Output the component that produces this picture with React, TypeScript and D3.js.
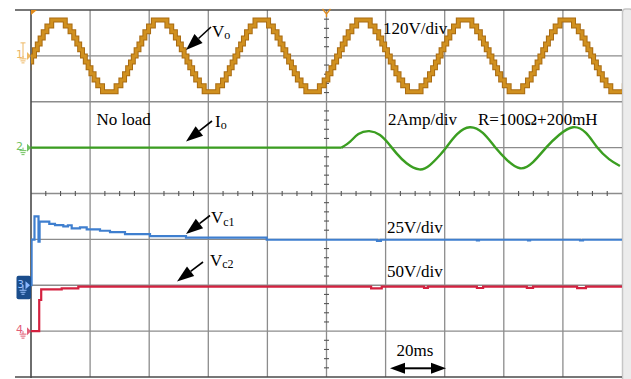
import React, { useMemo } from 'react';
import * as d3 from 'd3';

// Scope capture: multilevel inverter, no load -> R=100Ω+200mH step

const W = 631;
const H = 379;
const plot = { left: 31, right: 622, top: 10, bottom: 377 };

// time base (20 ms/div, 10 divisions) and 8 vertical divisions
const timeDivMs = 20;
const timeDivs = 10;
const voltDivs = 8;

// channel 1: Vo, 120 V/div, stepped output (one cycle repeated at the read start times)
const voRefDiv = 1;
const voPerDiv = 120;
const voCycleStartMs = [-33.7, 0.7, 35.1, 69.5, 103.9, 138.3, 172.7, 207.1];
const voSwitchDeg = [5, 15, 25, 36, 49, 66];
const voLevelV = [16, 31, 47, 63, 78, 94];

// channel 2: Io, 2 A/div (flat until the load is connected)
const ioRefDiv = 3;
const ioPerDiv = 2;
const ioTimeMs = [0, 105.1, 108.0, 110.8, 114.5, 118.1, 120.9, 123.7, 127.1, 131.4, 135.0, 138.4, 140.7,
  144.2, 148.5, 152.9, 157.0, 161.1, 165.5, 169.9, 174.3, 178.7, 183.4, 187.8, 191.5, 195.6, 199.3];
const ioAmp = [0, 0, 0.26, 0.59, 0.72, 0.55, 0.19, -0.25, -0.68, -0.95, -0.76, -0.32, 0.04,
  0.59, 0.89, 0.64, 0.03, -0.54, -0.9, -0.63, 0, 0.55, 0.89, 0.64, 0.03, -0.5, -0.8];

// channel 3: Vc1, 25 V/div
const vc1RefDiv = 6;
const vc1PerDiv = 25;
const vc1TimeMs = [0, 0.2, 0.85, 1.18, 2.03, 2.54, 2.91, 6.19, 8.12, 10.93, 12.5, 13.77, 16.58, 18.85,
  23.35, 26.73, 31.81, 40.27, 52.45, 79.76, 117.1, 118.4, 150.9, 151.6, 168.2, 168.9, 185.8, 186.8, 200];
const vc1Volt = [0, 24.9, 24.9, 37.5, 37.5, 23.8, 34.7, 33.4, 32.8, 32.1, 32.7, 31.0, 31.5, 30.5,
  29.7, 28.9, 27.9, 26.8, 25.9, 24.8, 24.2, 24.8, 24.5, 24.8, 24.5, 24.8, 24.4, 24.8, 24.8];

// channel 4: Vc2, 50 V/div
const vc2RefDiv = 7;
const vc2PerDiv = 50;
const vc2TimeMs = [0, 2.47, 2.78, 3.45, 10.39, 16.01, 115.1, 118.7, 133.0, 134.3, 150.9, 153.0,
  167.8, 169.9, 184.8, 187.8, 200];
const vc2Volt = [0, 0, 33.9, 45.6, 46.7, 48.4, 46.6, 48.4, 47.2, 48.4, 47.0, 48.4,
  47.2, 48.4, 46.8, 48.4, 48.4];

const serif = '"Liberation Serif", "Times New Roman", serif';

function Arrow({ x1, y1, x2, y2, len = 17, half = 6 }: any) {
  const a = Math.atan2(y2 - y1, x2 - x1);
  const bx = x2 - len * Math.cos(a);
  const by = y2 - len * Math.sin(a);
  const nx = -Math.sin(a) * half;
  const ny = Math.cos(a) * half;
  return (
    <g>
      <line x1={x1} y1={y1} x2={bx} y2={by} stroke="#000" strokeWidth={1.6} />
      <polygon points={`${x2},${y2} ${bx + nx},${by + ny} ${bx - nx},${by - ny}`} fill="#000" />
    </g>
  );
}

function ChannelMark({ y, label, color, tee }: any) {
  return (
    <g opacity={0.75}>
      <text x={16} y={y + 2} fontSize={11} fontFamily='"DejaVu Sans", sans-serif' fill={color}>{label}</text>
      {tee && <path d={`M20.5,${y - 13} H25.5 M23,${y - 13} V${y + 2}`} stroke={color} strokeWidth={1} fill="none" />}
      <path d={`M23,${y} V${y + 3} M19.5,${y + 3} H26.5 M20.5,${y + 5} H25.5 M21.5,${y + 7} H24.5`}
        stroke={color} strokeWidth={1} fill="none" />
      <polygon points={`27,${y - 4} 31,${y} 27,${y + 4}`} fill={color} />
    </g>
  );
}

export default function App() {
  const x = d3.scaleLinear().domain([0, timeDivMs * timeDivs]).range([plot.left, plot.right]);
  const yDiv = d3.scaleLinear().domain([0, voltDivs]).range([plot.top, plot.bottom]);
  const chScale = (refDiv: number, perDiv: number) =>
    d3.scaleLinear().domain([0, perDiv]).range([yDiv(refDiv), yDiv(refDiv - 1)]);

  const yVo = chScale(voRefDiv, voPerDiv);
  const yIo = chScale(ioRefDiv, ioPerDiv);
  const yVc1 = chScale(vc1RefDiv, vc1PerDiv);
  const yVc2 = chScale(vc2RefDiv, vc2PerDiv);

  const paths = useMemo(() => {
    // stepped Vo from switching angles / levels
    const voPts: [number, number][] = [];
    voCycleStartMs.slice(0, -1).forEach((t0, i) => {
      const period = voCycleStartMs[i + 1] - t0;
      const seq: [number, number][] = [[0, 0]];
      voSwitchDeg.forEach((a, k) => seq.push([a, voLevelV[k]]));
      for (let k = voSwitchDeg.length - 1; k >= 0; k--) seq.push([180 - voSwitchDeg[k], k > 0 ? voLevelV[k - 1] : 0]);
      voSwitchDeg.forEach((a, k) => seq.push([180 + a, -voLevelV[k]]));
      for (let k = voSwitchDeg.length - 1; k >= 0; k--) seq.push([360 - voSwitchDeg[k], k > 0 ? -voLevelV[k - 1] : 0]);
      seq.forEach(([deg, v]) => voPts.push([t0 + (deg / 360) * period, v]));
    });

    const step = (ys: any) => d3.line<[number, number]>().x(d => x(d[0])).y(d => ys(d[1])).curve(d3.curveStepAfter);
    const zip = (a: number[], b: number[]) => a.map((t, i) => [t, b[i]] as [number, number]);
    const io = zip(ioTimeMs, ioAmp);
    const ioLine = d3.line<[number, number]>().x(d => x(d[0])).y(d => yIo(d[1]));

    return {
      vo: step(yVo)(voPts) || '',
      ioFlat: ioLine(io.slice(0, 2)) || '',
      ioWave: ioLine.curve(d3.curveNatural)(io.slice(1)) || '',
      vc1: step(yVc1)(zip(vc1TimeMs, vc1Volt)) || '',
      vc2: step(yVc2)(zip(vc2TimeMs, vc2Volt)) || '',
    };
  }, []);

  const xGrid = x.ticks(timeDivs).filter(t => t > 0 && t < timeDivMs * timeDivs);
  const yGrid = d3.range(1, voltDivs);
  const xc = x(timeDivMs * timeDivs / 2);
  const yc = yDiv(voltDivs / 2);
  const vMinor = d3.range(0, voltDivs * 5 + 1).filter(k => k % 5 !== 0).map(k => yDiv(k / 5));
  const hMinor = d3.range(0, timeDivMs * timeDivs + 1, timeDivMs / 4).filter(t => t % timeDivMs !== 0).map(t => x(t));

  return (
    <svg width={W} height={H} style={{ position: 'absolute', left: 0, top: 0, display: 'block', background: '#fff' }}>
      <defs>
        <clipPath id="scr">
          <rect x={plot.left} y={plot.top} width={plot.right - plot.left} height={plot.bottom - plot.top} />
        </clipPath>
      </defs>

      {/* right bezel */}
      <rect x={622.5} y={9} width={10} height={372} rx={3} fill="#ececec" stroke="#c6c6c6" strokeWidth={1.5} />

      {/* grid */}
      <g stroke="#8c8c8c" strokeWidth={1.3}>
        {xGrid.map(t => <line key={'v' + t} x1={x(t)} x2={x(t)} y1={plot.top} y2={plot.bottom} />)}
        {yGrid.map(k => <line key={'h' + k} x1={plot.left} x2={plot.right} y1={yDiv(k)} y2={yDiv(k)} />)}
      </g>
      <g stroke="#555" strokeWidth={1.1}>
        {vMinor.map((y, i) => <line key={'vm' + i} x1={xc - 2.5} x2={xc + 2.5} y1={y} y2={y} />)}
        {hMinor.map((xx, i) => <line key={'hm' + i} x1={xx} x2={xx} y1={yc - 2.5} y2={yc + 2.5} />)}
      </g>
      <g stroke="#4a4a4a" strokeWidth={1.6}>
        <line x1={15} x2={plot.right} y1={plot.top} y2={plot.top} />
        <line x1={15} x2={plot.right} y1={plot.bottom} y2={plot.bottom} />
        <line x1={plot.left} x2={plot.left} y1={plot.top} y2={plot.bottom + 1} />
      </g>

      {/* traces */}
      <g clipPath="url(#scr)" fill="none">
        <path d={paths.vo} stroke="#a96b12" strokeWidth={5} />
        <path d={paths.vo} stroke="#d0901f" strokeWidth={3} />
        <path d={paths.ioFlat} stroke="#3b9e21" strokeWidth={2.4} />
        <path d={paths.ioWave} stroke="#3b9e21" strokeWidth={2.4} />
        <path d={paths.vc1} stroke="#3f7fcf" strokeWidth={2.2} />
        <path d={paths.vc2} stroke="#d4213f" strokeWidth={2.2} />
      </g>

      {/* trigger markers */}
      <polygon points={`${plot.left},${plot.top} ${plot.left + 6},${plot.top} ${plot.left},${plot.top + 5}`} fill="#e08a1a" />
      <path d={`M${xc - 4},${plot.top - 1} L${xc},${plot.top + 4} L${xc + 4},${plot.top - 1} M${xc},${plot.top + 4} V${plot.top + 7}`}
        stroke="#e08a1a" strokeWidth={1.3} fill="none" />

      {/* channel ground markers */}
      <ChannelMark y={yDiv(voRefDiv)} label="1" color="#e8a030" tee />
      <ChannelMark y={yDiv(ioRefDiv)} label="2" color="#3fae2a" />
      <g>
        <rect x={16.5} y={yDiv(vc1RefDiv) - 9.5} width={14.5} height={23.5} rx={2} fill="#1a4d8c" />
        <text x={17.5} y={yDiv(vc1RefDiv) + 3} fontSize={10} fontFamily='"DejaVu Sans", sans-serif' fill="#9cc2ff">3</text>
        <polygon points={`25.5,${yDiv(vc1RefDiv) - 4} 30,${yDiv(vc1RefDiv)} 25.5,${yDiv(vc1RefDiv) + 4}`} fill="#8ab8ff" />
        <path d={`M23,${yDiv(vc1RefDiv)} V${yDiv(vc1RefDiv) + 5} M19.5,${yDiv(vc1RefDiv) + 5} H26.5 M20.5,${yDiv(vc1RefDiv) + 7} H25.5 M21.5,${yDiv(vc1RefDiv) + 9} H24.5`}
          stroke="#9cc2ff" strokeWidth={1} fill="none" />
      </g>
      <ChannelMark y={yDiv(vc2RefDiv)} label="4" color="#d8284a" />

      {/* annotations */}
      <g fontFamily={serif} fill="#000" fontSize={17}>
        <text x={212} y={36.7}>V<tspan fontSize={12} dy={2}>o</tspan></text>
        <text x={383} y={33.5}>120V/div</text>
        <text x={96.5} y={125}>No load</text>
        <text x={215} y={126.7}>I<tspan fontSize={12} dy={2}>o</tspan></text>
        <text x={388} y={125}>2Amp/div</text>
        <text x={478} y={125}>R=100Ω+200mH</text>
        <text x={211} y={223.3}>V<tspan fontSize={12} dy={2.5}>c1</tspan></text>
        <text x={210} y={265.7}>V<tspan fontSize={12} dy={2.5}>c2</tspan></text>
        <text x={387} y={233.3}>25V/div</text>
        <text x={387} y={277.3}>50V/div</text>
        <text x={396.5} y={355.7}>20ms</text>
      </g>
      <Arrow x1={211} y1={27} x2={186} y2={50} />
      <Arrow x1={212} y1={121} x2={186} y2={141.5} />
      <Arrow x1={210} y1={215.5} x2={186} y2={234} />
      <Arrow x1={203} y1={262} x2={177} y2={281.5} />
      <g>
        <line x1={402} x2={434} y1={368.3} y2={368.3} stroke="#000" strokeWidth={2} />
        <polygon points={`390,368.3 405,362.8 405,373.8`} fill="#000" />
        <polygon points={`446,368.3 431,362.8 431,373.8`} fill="#000" />
      </g>
    </svg>
  );
}
